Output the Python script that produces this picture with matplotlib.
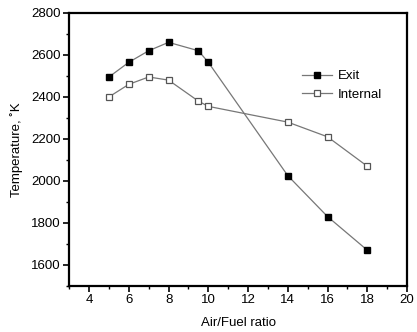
import matplotlib
matplotlib.use("Agg")
import matplotlib.pyplot as plt
from matplotlib.ticker import MultipleLocator

plt.rcParams['font.family'] = ['Liberation Sans', 'DejaVu Sans']

afr = [5, 6, 7, 8, 9.5, 10, 14, 16, 18]
exit_temp = [2495, 2565, 2620, 2660, 2620, 2565, 2025, 1830, 1670]
internal_temp = [2400, 2460, 2495, 2480, 2380, 2355, 2280, 2210, 2070]

fig = plt.figure(figsize=(4.17, 3.32), dpi=100)
ax = fig.add_axes([0.166, 0.139, 0.810, 0.822])

ax.plot(afr, exit_temp, color='#777777', lw=0.9, marker='s', ms=4.3,
        mfc='black', mec='black', label='Exit')
ax.plot(afr, internal_temp, color='#777777', lw=0.9, marker='s', ms=4.3,
        mfc='white', mec='#555555', mew=0.9, label='Internal')

ax.set_xlim(3, 20)
ax.set_ylim(1500, 2800)
ax.xaxis.set_minor_locator(MultipleLocator(1))
ax.yaxis.set_minor_locator(MultipleLocator(100))
ax.set_xticks(range(4, 21, 2))
ax.set_yticks(range(1600, 2801, 200))

for s in ax.spines.values():
    s.set_linewidth(1.6)
ax.tick_params(which='major', direction='out', length=4, width=1.2, labelsize=9.5, pad=2)
ax.tick_params(which='minor', direction='out', length=2.5, width=1.0)
ax.tick_params(top=False, right=False)

ax.set_xlabel('Air/Fuel ratio', fontsize=9.5, labelpad=8)
ax.set_ylabel('Temperature, ˚K', fontsize=9.5, labelpad=6)

leg = ax.legend(loc='upper left', bbox_to_anchor=(0.689, 0.79), frameon=False,
                fontsize=9.5, handlelength=2.3, handletextpad=0.4, labelspacing=0.45,
                borderpad=0, borderaxespad=0, markerscale=0.9)

fig.savefig('out.png', dpi=100)
